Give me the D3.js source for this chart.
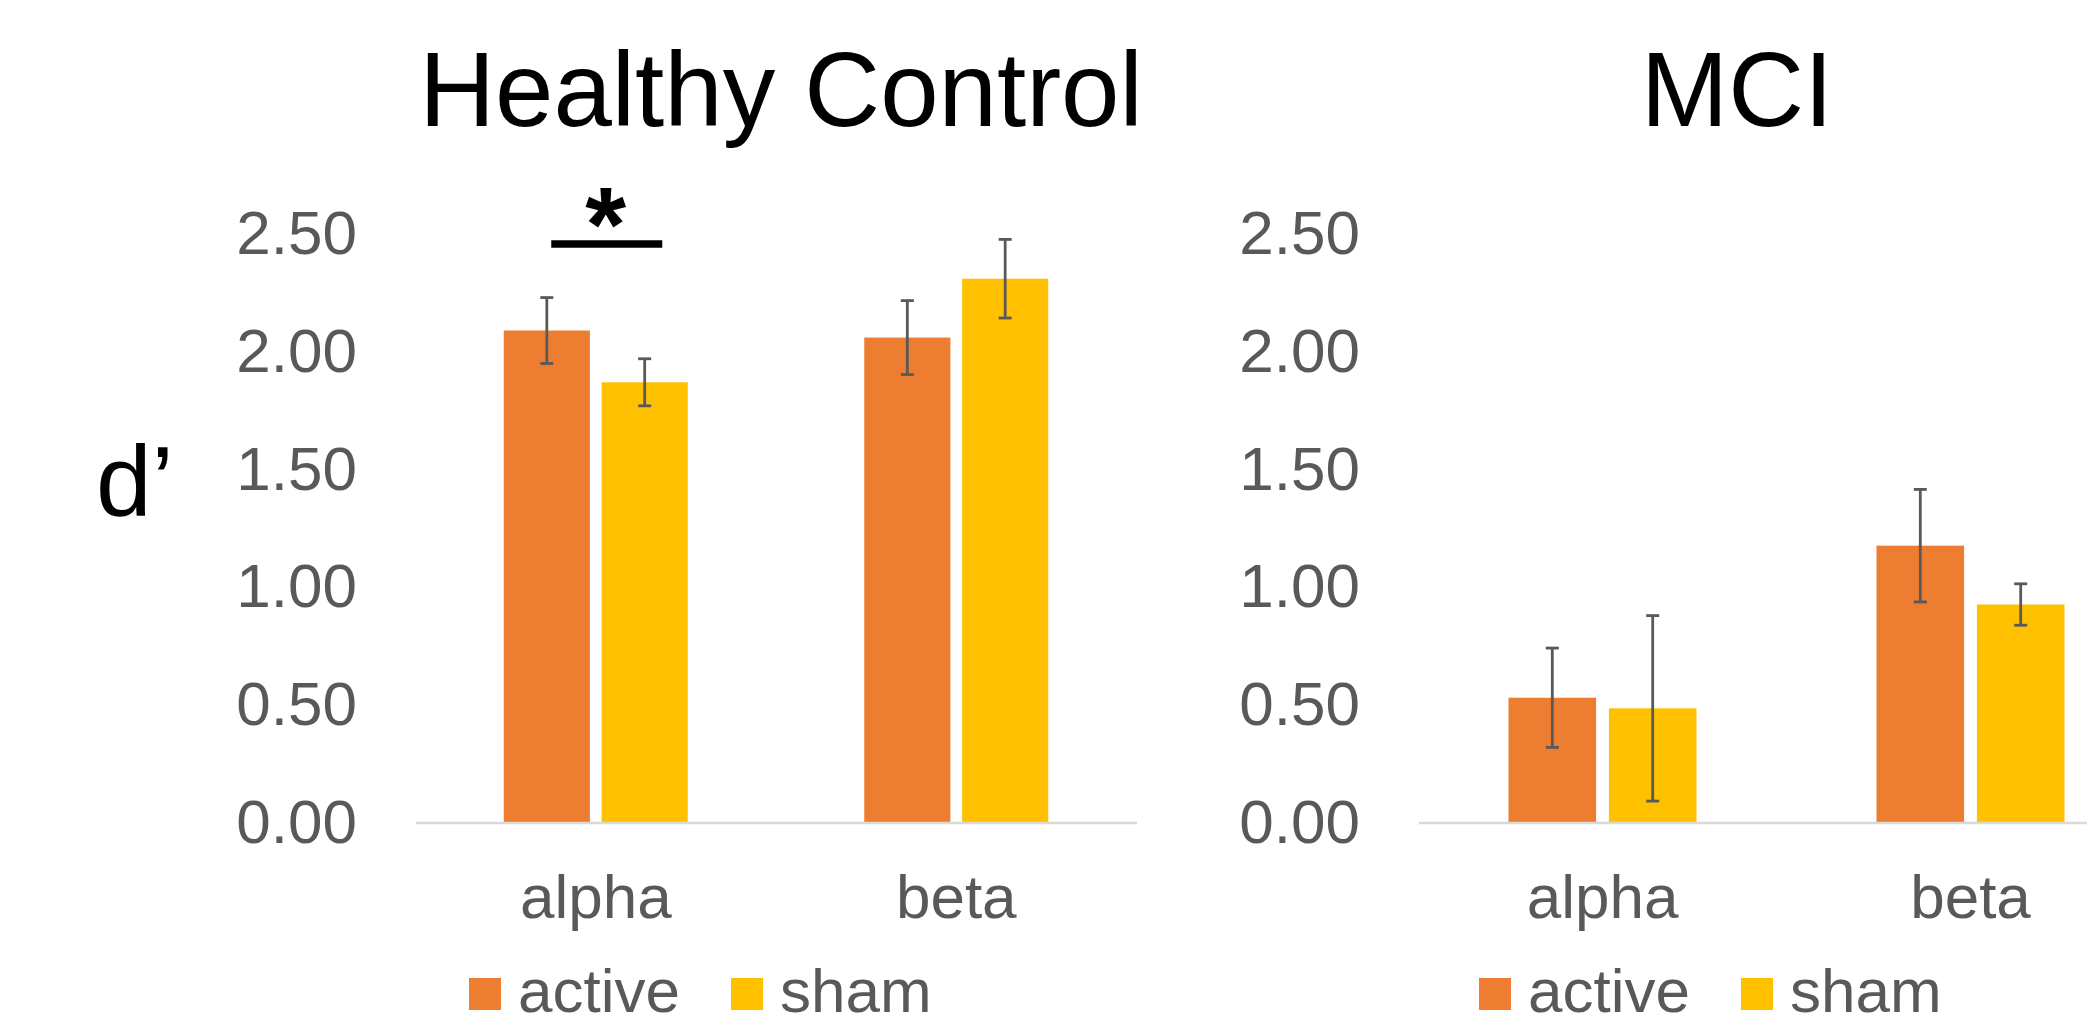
<!DOCTYPE html>
<html>
<head>
<meta charset="utf-8">
<script src="https://cdn.jsdelivr.net/npm/d3@7"></script>
<style>
  html, body { margin: 0; padding: 0; background: #fff; }
  svg { display: block; font-family: "Liberation Sans", Arial, sans-serif; }
</style>
</head>
<body>
<svg id="chart" width="2087" height="1025"></svg>
<script>
// ---- data ----
const categories = ["alpha", "beta"];
const seriesNames = ["active", "sham"];
const panelTitles = ["Healthy Control", "MCI"];
const yTicks = [0, 0.5, 1.0, 1.5, 2.0, 2.5];

const hcActive = [2.09, 2.06];
const hcSham = [1.87, 2.31];
const hcActiveErr = [0.14, 0.157];
const hcShamErr = [0.10, 0.167];

const mciActive = [0.53, 1.176];
const mciSham = [0.485, 0.926];
const mciActiveErr = [0.211, 0.239];
const mciShamErr = [0.394, 0.088];

const sigMarks = [{ panel: 0, category: "alpha", y: 2.457, label: "*" }];

const colors = { active: "#ED7D31", sham: "#FFC000" };
const textGray = "#595959";

// ---- layout ----
const panelsCfg = [
  { title: panelTitles[0], titleX: 781, xRange: [415.5, 1136.5], barW: 81, gap: 22, tickX: 357,
    values: [hcActive, hcSham], errs: [hcActiveErr, hcShamErr],
    legendX: 469 },
  { title: panelTitles[1], titleX: 1737, xRange: [1418.5, 2154.5], barW: 82, gap: 24, tickX: 1360,
    values: [mciActive, mciSham], errs: [mciActiveErr, mciShamErr],
    legendX: 1479 }
];

const svg = d3.select("#chart");
const y = d3.scaleLinear().domain([0, 2.5]).range([822.5, 234]);

panelsCfg.forEach((p, pi) => {
  const g = svg.append("g");
  const x0 = d3.scaleBand().domain(categories).range(p.xRange).padding(0);
  const x1 = d3.scaleBand().domain(seriesNames)
    .range([-(p.barW + p.gap / 2), p.barW + p.gap / 2])
    .paddingInner(p.gap / (2 * p.barW + p.gap)).paddingOuter(0);

  // title
  g.append("text").attr("x", p.titleX).attr("y", 125.5)
    .attr("text-anchor", "middle").attr("font-size", 105).attr("fill", "#000")
    .text(p.title);

  // y axis labels
  const yAxis = d3.axisLeft(y).tickValues(yTicks).tickSize(0).tickPadding(0)
    .tickFormat(d3.format(".2f"));
  const ya = g.append("g").attr("transform", `translate(${p.tickX},0)`).call(yAxis);
  ya.select(".domain").remove();
  ya.selectAll("text").attr("font-size", 62).attr("fill", textGray)
    .attr("font-family", "Liberation Sans, Arial, sans-serif");

  // bars
  const data = [];
  categories.forEach((c, ci) => {
    seriesNames.forEach((s, si) => {
      data.push({ c, s, v: p.values[si][ci], e: p.errs[si][ci] });
    });
  });
  const bars = g.append("g");
  bars.selectAll("rect").data(data).join("rect")
    .attr("x", d => x0(d.c) + x0.bandwidth() / 2 + x1(d.s))
    .attr("width", x1.bandwidth())
    .attr("y", d => y(d.v))
    .attr("height", d => y(0) - y(d.v))
    .attr("fill", d => colors[d.s]);

  // x axis (baseline + labels)
  const xAxis = d3.axisBottom(x0).tickSize(0).tickSizeOuter(0);
  const xa = g.append("g").attr("transform", `translate(0,${y(0)})`).call(xAxis);
  xa.select(".domain").attr("stroke", "#d9d9d9").attr("stroke-width", 2.5);
  xa.selectAll("text").attr("dy", null).attr("y", 95.5)
    .attr("font-size", 62).attr("fill", textGray)
    .attr("font-family", "Liberation Sans, Arial, sans-serif");

  // error bars
  const eb = g.append("g").attr("stroke", "#595959").attr("stroke-width", 2.8).attr("fill", "none");
  data.forEach(d => {
    const cx = x0(d.c) + x0.bandwidth() / 2 + x1(d.s) + x1.bandwidth() / 2;
    const top = y(d.v + d.e), bot = y(d.v - d.e);
    eb.append("line").attr("x1", cx).attr("x2", cx).attr("y1", top).attr("y2", bot);
    eb.append("line").attr("x1", cx - 6.5).attr("x2", cx + 6.5).attr("y1", top).attr("y2", top);
    eb.append("line").attr("x1", cx - 6.5).attr("x2", cx + 6.5).attr("y1", bot).attr("y2", bot);
  });

  // significance marks
  sigMarks.filter(m => m.panel === pi).forEach(m => {
    const cx = x0(m.category) + x0.bandwidth() / 2 + 11;
    g.append("line").attr("x1", cx - 55.5).attr("x2", cx + 55.5)
      .attr("y1", y(m.y)).attr("y2", y(m.y))
      .attr("stroke", "#000").attr("stroke-width", 7.5);
    g.append("text").attr("x", cx - 1).attr("y", y(m.y) + 17)
      .attr("text-anchor", "middle").attr("font-size", 105).attr("font-weight", "bold")
      .attr("fill", "#000").text(m.label);
  });

  // legend
  const lg = g.append("g");
  const legendOffsets = [0, 262];
  seriesNames.forEach((s, si) => {
    const lx = p.legendX + legendOffsets[si];
    lg.append("rect").attr("x", lx).attr("y", 978).attr("width", 32).attr("height", 32)
      .attr("fill", colors[s]);
    lg.append("text").attr("x", lx + 49).attr("y", 1012)
      .attr("font-size", 62).attr("fill", textGray).text(s);
  });
});

// y-axis title
svg.append("text").attr("x", 96).attr("y", 516)
  .attr("font-size", 100).attr("fill", "#000").text("d\u2019");
</script>
</body>
</html>
